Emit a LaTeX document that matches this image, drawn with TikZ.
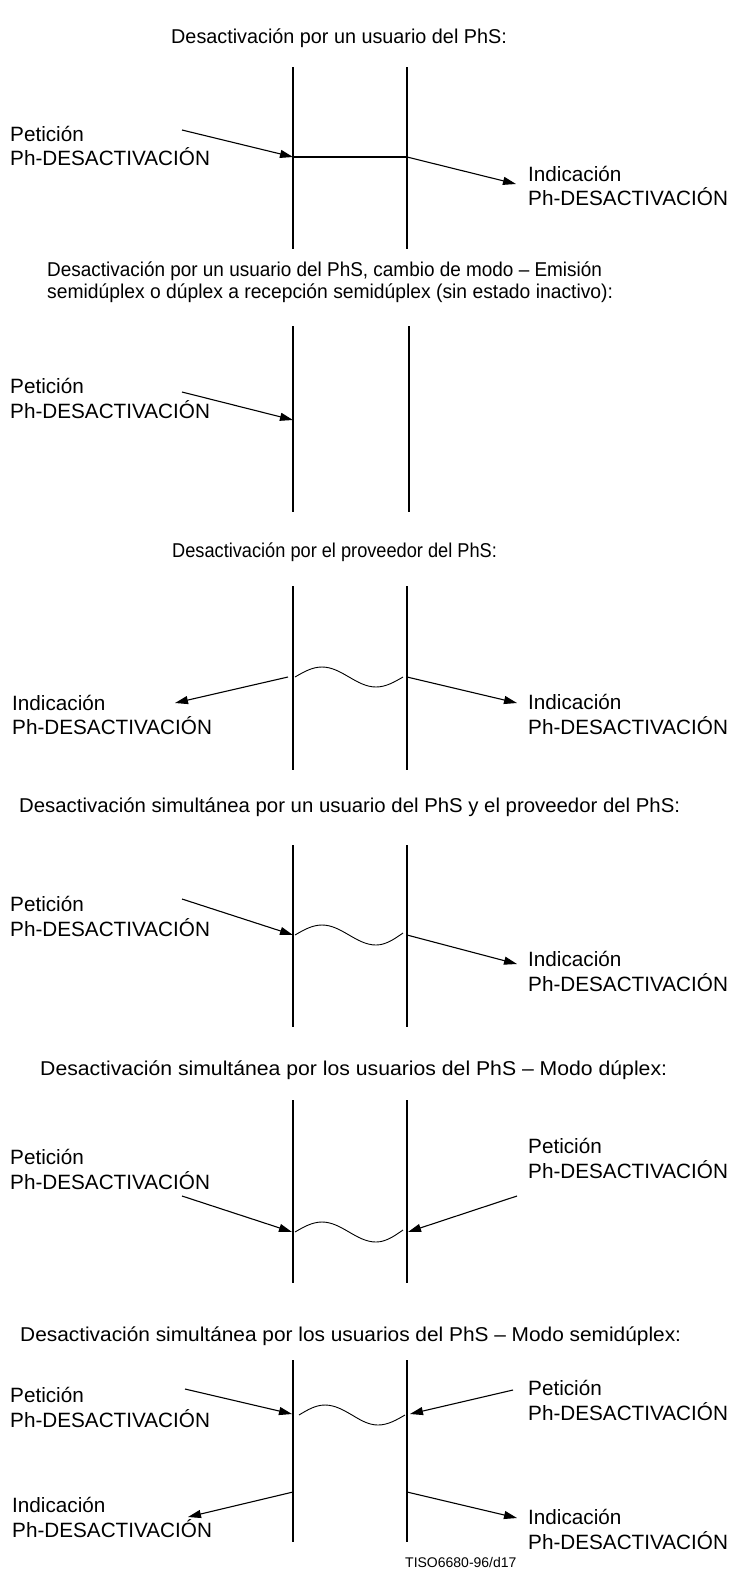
\documentclass[tikz,border=0pt]{standalone}
\usepackage{fontspec}
\usepackage{graphicx}
\setmainfont{Liberation Sans}
\usetikzlibrary{arrows.meta}
\newcommand{\lblfont}{\fontsize{20.7}{24.5}\selectfont}
\newcommand{\ttlfont}{\fontsize{20}{22}\selectfont}
\newcommand{\idfont}{\fontsize{14}{16}\selectfont}
% labels are anchored at the baseline of their last line
\tikzset{
  lbl/.style={font=\lblfont, align=left, inner sep=0pt, anchor=base west},
  ttl/.style={font=\ttlfont, align=left, inner sep=0pt, anchor=base west},
  life/.style={line width=1.9pt},
  msg/.style={line width=1.1pt, -{Triangle[length=13pt,width=8pt]}},
  wave/.style={line width=0.9pt},
}
\begin{document}
\begin{tikzpicture}[x=1pt,y=-1pt]
\useasboundingbox (0,0) rectangle (731,1569);

% ---------- 1: deactivation by a user ----------
\node[ttl] (t1) at (171,43) {\scalebox{0.99}[1]{Desactivación por un usuario del PhS:}};
\draw[life] (293,67) coordinate (a1t) -- (293,249) coordinate (a1b);
\draw[life] (407,67) coordinate (b1t) -- (407,249) coordinate (b1b);
\node[lbl] (l1) at (10,165.5) {Petición\\Ph-DESACTIVACIÓN};
\node[lbl] (r1) at (528,205.5) {Indicación\\Ph-DESACTIVACIÓN};
\coordinate (p1s) at (182,130);
\coordinate (p1e) at (293,157);
\coordinate (q1s) at (407,157);
\coordinate (q1e) at (516,184);
\draw[msg] (p1s) -- (p1e);
\draw[life] (p1e) -- (q1s);
\draw[msg] (q1s) -- (q1e);

% ---------- 2: deactivation by a user, mode change ----------
\node[ttl] (t2) at (47,298) {\scalebox{0.947}[1]{Desactivación por un usuario del PhS, cambio de modo -- Emisión}\\\scalebox{0.964}[1]{semidúplex o dúplex a recepción semidúplex (sin estado inactivo):}};
\draw[life] (293,326) coordinate (a2t) -- (293,512) coordinate (a2b);
\draw[life] (409,326) coordinate (b2t) -- (409,512) coordinate (b2b);
\node[lbl] (l2) at (10,418) {Petición\\Ph-DESACTIVACIÓN};
\coordinate (p2s) at (182,392);
\coordinate (p2e) at (293,420);
\draw[msg] (p2s) -- (p2e);

% ---------- 3: deactivation by the provider ----------
\node[ttl] (t3) at (172,557) {\scalebox{0.91}[1]{Desactivación por el proveedor del PhS:}};
\draw[life] (293,586) coordinate (a3t) -- (293,770) coordinate (a3b);
\draw[life] (407,586) coordinate (b3t) -- (407,770) coordinate (b3b);
\coordinate (w3s) at (295,677);
\draw[wave] (w3s) sin (322,667) cos (349,677) sin (376,687) cos (403,677) coordinate (w3e);
\node[lbl] (l3) at (12,734.5) {Indicación\\Ph-DESACTIVACIÓN};
\node[lbl] (r3) at (528,734) {Indicación\\Ph-DESACTIVACIÓN};
\coordinate (p3s) at (288,677);
\coordinate (p3e) at (175,703);
\coordinate (q3s) at (407,677);
\coordinate (q3e) at (517,703);
\draw[msg] (p3s) -- (p3e);
\draw[msg] (q3s) -- (q3e);

% ---------- 4: simultaneous, user and provider ----------
\node[ttl] (t4) at (19,812) {\scalebox{1.018}[1]{Desactivación simultánea por un usuario del PhS y el proveedor del PhS:}};
\draw[life] (293,845) coordinate (a4t) -- (293,1027) coordinate (a4b);
\draw[life] (407,845) coordinate (b4t) -- (407,1027) coordinate (b4b);
\coordinate (w4s) at (295,935);
\draw[wave] (w4s) sin (322,925) cos (349,935) sin (376,945) cos (403,933) coordinate (w4e);
\node[lbl] (l4) at (10,936) {Petición\\Ph-DESACTIVACIÓN};
\node[lbl] (r4) at (528,991) {Indicación\\Ph-DESACTIVACIÓN};
\coordinate (p4s) at (182,899);
\coordinate (p4e) at (293,935);
\coordinate (q4s) at (407,935);
\coordinate (q4e) at (517,964);
\draw[msg] (p4s) -- (p4e);
\draw[msg] (q4s) -- (q4e);

% ---------- 5: simultaneous by both users, duplex ----------
\node[ttl] (t5) at (40,1075) {\scalebox{1.06}[1]{Desactivación simultánea por los usuarios del PhS -- Modo dúplex:}};
\draw[life] (293,1100) coordinate (a5t) -- (293,1283) coordinate (a5b);
\draw[life] (407,1100) coordinate (b5t) -- (407,1283) coordinate (b5b);
\coordinate (w5s) at (295,1232);
\draw[wave] (w5s) sin (322,1222) cos (349,1232) sin (376,1242) cos (403,1230) coordinate (w5e);
\node[lbl] (l5) at (10,1189) {Petición\\Ph-DESACTIVACIÓN};
\node[lbl] (r5) at (528,1178) {Petición\\Ph-DESACTIVACIÓN};
\coordinate (p5s) at (182,1196);
\coordinate (p5e) at (292,1232);
\coordinate (q5s) at (517,1196);
\coordinate (q5e) at (408,1232);
\draw[msg] (p5s) -- (p5e);
\draw[msg] (q5s) -- (q5e);

% ---------- 6: simultaneous by both users, half duplex ----------
\node[ttl] (t6) at (20,1341) {\scalebox{1.043}[1]{Desactivación simultánea por los usuarios del PhS -- Modo semidúplex:}};
\draw[life] (293,1360) coordinate (a6t) -- (293,1542) coordinate (a6b);
\draw[life] (407,1360) coordinate (b6t) -- (407,1542) coordinate (b6b);
\coordinate (w6s) at (299,1415);
\draw[wave] (w6s) sin (325,1405) cos (352,1415) sin (378,1425) cos (405,1415) coordinate (w6e);
\node[lbl] (l6a) at (10,1427) {Petición\\Ph-DESACTIVACIÓN};
\node[lbl] (r6a) at (528,1420) {Petición\\Ph-DESACTIVACIÓN};
\node[lbl] (l6b) at (12,1537) {Indicación\\Ph-DESACTIVACIÓN};
\node[lbl] (r6b) at (528,1549) {Indicación\\Ph-DESACTIVACIÓN};
\coordinate (p6s) at (185,1389);
\coordinate (p6e) at (292,1414);
\coordinate (q6s) at (513,1390);
\coordinate (q6e) at (410,1414);
\coordinate (u6s) at (293,1492);
\coordinate (u6e) at (188,1517);
\coordinate (v6s) at (407,1492);
\coordinate (v6e) at (517,1518);
\draw[msg] (p6s) -- (p6e);
\draw[msg] (q6s) -- (q6e);
\draw[msg] (u6s) -- (u6e);
\draw[msg] (v6s) -- (v6e);

\node[font=\idfont, inner sep=0pt, anchor=base west] (ref) at (405,1567) {TISO6680-96/d17};
\end{tikzpicture}
\end{document}
